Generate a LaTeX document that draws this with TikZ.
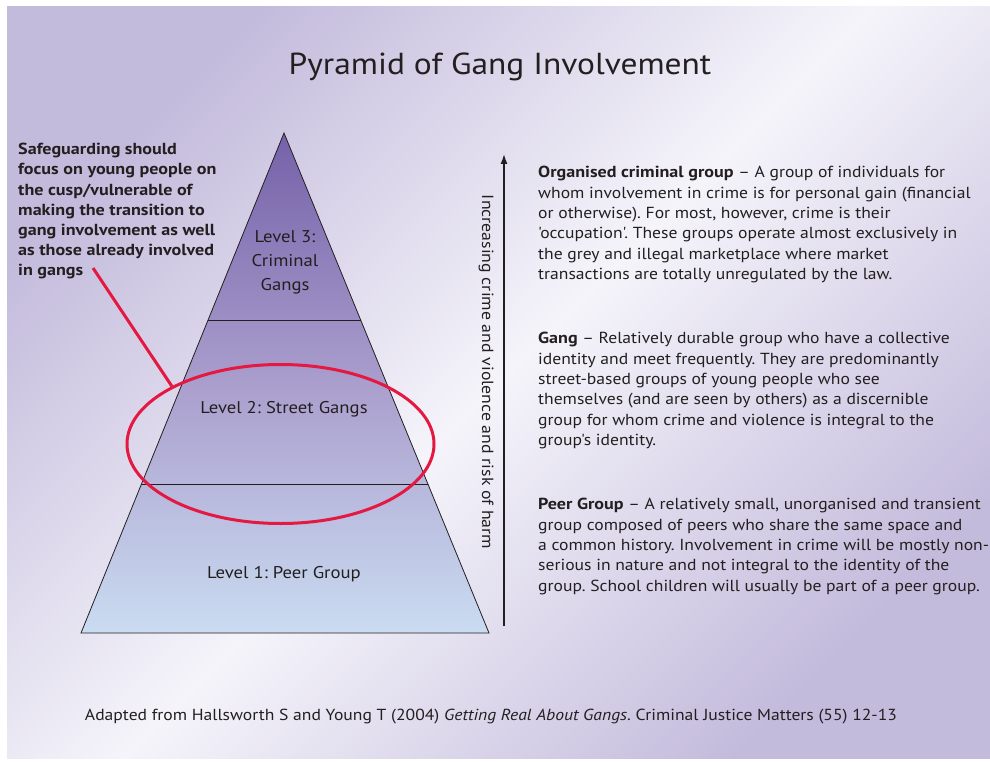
\documentclass[tikz,border=0pt]{standalone}
\usepackage{fontspec}
\setmainfont{PT Sans}[Ligatures=TeXOff, UprightFeatures={FakeStretch=1.1}, ItalicFeatures={FakeStretch=1.1}, BoldFeatures={FakeStretch=1.13}]
\usetikzlibrary{calc,arrows.meta,shapes.geometric}
\frenchspacing
\definecolor{inkgrey}{RGB}{35,31,32}
\definecolor{lavender}{RGB}{195,187,220}
\definecolor{paleback}{RGB}{245,244,250}
\definecolor{pyrtop}{RGB}{117,97,169}
\definecolor{pyrmid}{RGB}{170,158,205}
\definecolor{pyrbase}{RGB}{202,220,241}
\definecolor{ringred}{RGB}{228,24,64}

\tikzset{
  bodytext/.style={anchor=north west, inner sep=0pt, align=left, text=inkgrey, font=\fontsize{16}{20.4}\selectfont},
  leveltext/.style={inner sep=0pt, align=center, text=inkgrey, font=\fontsize{17}{24}\selectfont},
  cutline/.style={line width=0.9pt, draw=inkgrey},
}

\begin{document}
\begin{tikzpicture}[x=1pt,y=-1pt]
		%%%%% START %%%%%
		
		\useasboundingbox (0,0) rectangle (990,762);
		\shade[top color=lavender, bottom color=lavender, middle color=paleback, shading angle=45] (7,7) rectangle (990,758);
		
		\node[text=inkgrey, font=\fontsize{30.4}{38}\selectfont] (title) at (500,67) {Pyramid of Gang Involvement};
		
		% pyramid
		\coordinate (apex) at (284,133);
		\coordinate (baseleft) at (81,633);
		\coordinate (baseright) at (489,633);
		\shadedraw[top color=pyrtop, bottom color=pyrbase, middle color=pyrmid, draw=inkgrey, line width=0.8pt] (apex) -- (baseleft) -- (baseright) -- cycle;
		\coordinate (cutAL) at ($(apex)!0.374!(baseleft)$);
		\coordinate (cutAR) at ($(apex)!0.374!(baseright)$);
		\coordinate (cutBL) at ($(apex)!0.702!(baseleft)$);
		\coordinate (cutBR) at ($(apex)!0.702!(baseright)$);
		\draw[cutline] (cutAL) -- (cutAR);
		\draw[cutline] (cutBL) -- (cutBR);
		
		\node[leveltext] (level3) at (285,262) {Level 3:\\Criminal\\Gangs};
		\node[leveltext] (level2) at (284,409) {Level 2: Street Gangs};
		\node[leveltext] (level1) at (284,574) {Level 1: Peer Group};
		
		% safeguarding note
		\node[bodytext, font=\bfseries\fontsize{16}{20.2}\selectfont] (note) at (18,143) {Safeguarding should\\focus on young people on\\the cusp/vulnerable of\\making the transition to\\gang involvement as well\\as those already involved\\in gangs};
		\node[ellipse, draw=ringred, line width=3pt, minimum width=307pt, minimum height=159pt, inner sep=0pt] (ring) at (280.5,444) {};
		\coordinate (notetip) at (93,268);
		\draw[ringred, line width=3pt] (notetip) -- (ring.152);
		
		% arrow
		\coordinate (arrowfoot) at (504,626);
		\coordinate (arrowtip) at (504,154);
		\draw[-{Latex[length=10pt,width=7pt]}, line width=1.4pt, inkgrey] (arrowfoot) -- (arrowtip);
		\node[rotate=-90, text=inkgrey, font=\fontsize{16.15}{20}\selectfont] (harm) at (486,372) {Increasing crime and violence and risk of harm};
		
		% descriptions
		\node[bodytext] (organised) at (538,166) {\textbf{Organised criminal group} – A group of individuals for\\whom involvement in crime is for personal gain (financial\\or otherwise). For most, however, crime is their\\'occupation'. These groups operate almost exclusively in\\the grey and illegal marketplace where market\\transactions are totally unregulated by the law.};
		\node[bodytext] (gang) at (538,332) {\textbf{Gang} – Relatively durable group who have a collective\\identity and meet frequently. They are predominantly\\street-based groups of young people who see\\themselves (and are seen by others) as a discernible\\group for whom crime and violence is integral to the\\group's identity.};
		\node[bodytext] (peer) at (538,498) {\textbf{Peer Group} – A relatively small, unorganised and transient\\group composed of peers who share the same space and\\a common history. Involvement in crime will be mostly non-\\serious in nature and not integral to the identity of the\\group. School children will usually be part of a peer group.};
		
		\node[text=inkgrey, font=\fontsize{16}{20}\selectfont] (source) at (491,717) {Adapted from Hallsworth S and Young T (2004) \textit{Getting Real About Gangs}. Criminal Justice Matters (55) 12-13};
		
		%%%%% END %%%%%
\end{tikzpicture}
\end{document}
